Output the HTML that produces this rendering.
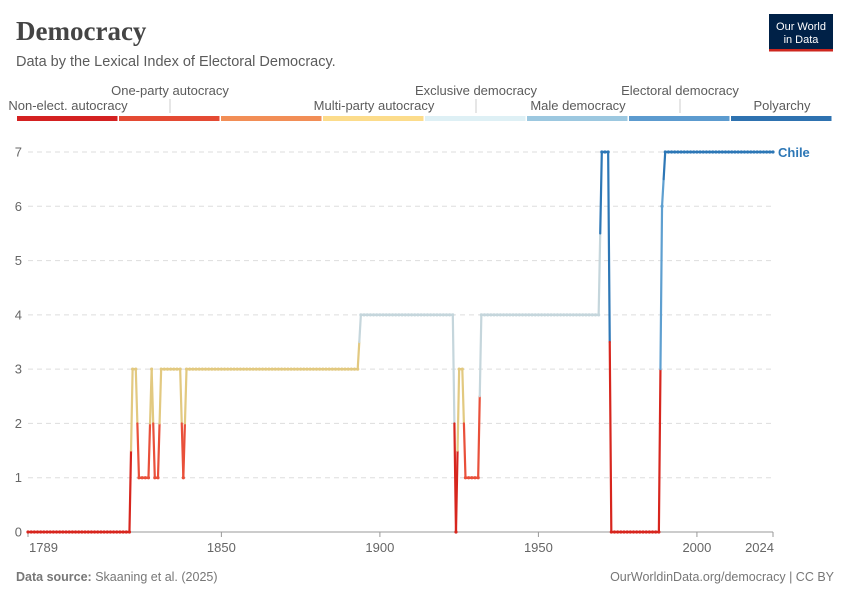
<!DOCTYPE html>
<html><head><meta charset="utf-8">
<style>
body{margin:0;background:#fff;font-family:"Liberation Sans",sans-serif;}
#wrap{position:relative;width:850px;height:600px;overflow:hidden;}
</style></head>
<body>
<div id="wrap">
<svg id="svg" width="850" height="600" xmlns="http://www.w3.org/2000/svg">
<text x="16" y="40" font-family="Liberation Serif,serif" font-size="27" font-weight="bold" fill="#444">Democracy</text>
<text x="16" y="66" font-size="14.5" fill="#5b5b5b">Data by the Lexical Index of Electoral Democracy.</text>
<g>
<rect x="769" y="14" width="64" height="37" fill="#002147"/>
<rect x="769" y="49" width="64" height="2.5" fill="#ce261e"/>
<text x="801" y="30" font-size="11" fill="#fff" text-anchor="middle">Our World</text>
<text x="801" y="43" font-size="11" fill="#fff" text-anchor="middle">in Data</text>
</g>
<g id="legend"></g>
<g id="grid"></g>
<g id="marks"></g>
<text x="16" y="581" font-size="12.5" fill="#777"><tspan font-weight="bold">Data source:</tspan> Skaaning et al. (2025)</text>
<text x="834" y="581" font-size="12.5" fill="#777" text-anchor="end">OurWorldinData.org/democracy | CC BY</text>
</svg>
</div>
<script>
const years=[];for(let y=1789;y<=2024;y++)years.push(y);
const changes=[[1789,0],[1822,3],[1824,1],[1828,3],[1829,1],[1831,3],[1838,1],[1839,3],[1894,4],[1924,0],[1925,3],[1927,1],[1932,4],[1970,7],[1973,0],[1989,6],[1990,7]];
const legendLabels=["Non-elect. autocracy","One-party autocracy","","Multi-party autocracy","Exclusive democracy","Male democracy","Electoral democracy","Polyarchy"];
const legendColors=["#d42121","#e44a33","#f28e56","#fcdc8b","#def0f5","#9cc8e0","#5c9bcf","#2e72b0"];
const lineColors=["#d7261e","#e9503a","#f28e56","#e2c980","#c5d6dc","#8fbcd9","#5e9fd0","#2d77b6"];
const yTicks=[0,1,2,3,4,5,6,7];
const xTicks=[1789,1850,1900,1950,2000,2024];
const values=years.map(y=>{let v=0;for(const c of changes)if(c[0]<=y)v=c[1];return v;});
const NS="http://www.w3.org/2000/svg";
const X=y=>28+(y-1789)*(773-28)/(2024-1789);
const Y=v=>532-v*(532-152)/7;
function mk(tag,at,parent){const e=document.createElementNS(NS,tag);for(const k in at)e.setAttribute(k,at[k]);parent.appendChild(e);return e;}
const lg=document.getElementById('legend'),gr=document.getElementById('grid'),mg=document.getElementById('marks');
const bw=(833-17)/8;
legendColors.forEach((c,i)=>{
 const r=mk('rect',{x:17+i*bw,y:116,width:bw-1.5,height:5,fill:c},lg);
 
 
 const lab=legendLabels[i];if(!lab)return;
 const cx=17+i*bw+bw/2;const up=(i===1||i===4||i===6);
 if(up){const l=mk('line',{x1:cx,x2:cx,y1:99,y2:113,stroke:'#ccc'},lg);}
 const t=mk('text',{x:cx,y:up?95:110,'font-size':13,fill:'#5b5b5b','text-anchor':'middle'},lg);t.textContent=lab;
 
 
});
yTicks.forEach(v=>{
 if(v>0){const l=mk('line',{x1:28,x2:773,y1:Y(v),y2:Y(v),stroke:'#ddd','stroke-dasharray':'5,4'},gr);}
 const t=mk('text',{x:22,y:Y(v)+4.5,'font-size':13,fill:'#666','text-anchor':'end'},gr);t.textContent=v;
 
 
});
const ax=mk('line',{x1:28,x2:773,y1:532,y2:532,stroke:'#999'},gr);
xTicks.forEach((yr,i)=>{
 const tk=mk('line',{x1:X(yr),x2:X(yr),y1:532,y2:537,stroke:'#999'},gr);
 const anchor=i===0?'start':(i===xTicks.length-1?'end':'middle');
 const t=mk('text',{x:X(yr)+(i===0?1:0)+(i===xTicks.length-1?1:0),y:552,'font-size':13,fill:'#666','text-anchor':anchor},gr);t.textContent=yr;
 
 
});
for(let i=0;i<years.length-1;i++){
 const x1=X(years[i]),x2=X(years[i+1]),y1=Y(values[i]),y2=Y(values[i+1]);
 const mx=(x1+x2)/2,my=(y1+y2)/2;
 const a=mk('line',{x1:x1,y1:y1,x2:mx,y2:my,stroke:lineColors[values[i]],'stroke-width':2.2,'stroke-linecap':'round'},mg);
 
 
 const b=mk('line',{x1:mx,y1:my,x2:x2,y2:y2,stroke:lineColors[values[i+1]],'stroke-width':2.2,'stroke-linecap':'round'},mg);
 
 
}
years.forEach((yr,i)=>{
 const c=mk('circle',{cx:X(yr),cy:Y(values[i]),r:1.6,fill:lineColors[values[i]]},mg);
 
 
});
const lbl=mk('text',{x:778,y:Y(values[values.length-1])+5,'font-size':13,'font-weight':'bold',fill:'#2d77b6'},mg);
lbl.textContent='Chile';


</script>
</body></html>
